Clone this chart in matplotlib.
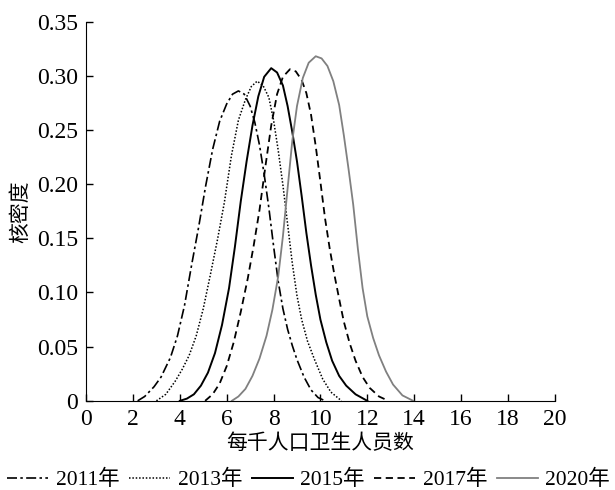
import matplotlib
matplotlib.use("Agg")
import matplotlib.pyplot as plt

plt.rcParams['font.family'] = ['Liberation Serif', 'Noto Sans CJK SC']

# density curves (x = 每千人口卫生人员数, y = 核密度)
x_2011 = [2.2, 2.5, 2.9, 3.2, 3.6, 3.9, 4.2, 4.5, 4.8, 5.1, 5.4, 5.7, 6.0, 6.25, 6.5,
          6.75, 7.0, 7.2, 7.4, 7.6, 7.8, 8.0, 8.2, 8.4, 8.6, 8.8, 9.0, 9.3, 9.6, 9.9, 10.2]
y_2011 = [0, 0.004, 0.013, 0.022, 0.040, 0.060, 0.088, 0.125, 0.160, 0.198, 0.232, 0.258, 0.274, 0.283, 0.286,
          0.283, 0.272, 0.257, 0.236, 0.209, 0.178, 0.143, 0.110, 0.085, 0.066, 0.051, 0.038, 0.022, 0.010, 0.003, 0]

x_2013 = [3.0, 3.4, 3.8, 4.1, 4.4, 4.7, 5.0, 5.3, 5.6, 5.9, 6.2, 6.5, 6.8, 7.05, 7.3,
          7.55, 7.8, 8.0, 8.2, 8.4, 8.6, 8.8, 9.0, 9.2, 9.45, 9.75, 10.1, 10.45, 10.9]
y_2013 = [0, 0.006, 0.018, 0.029, 0.042, 0.060, 0.085, 0.116, 0.148, 0.183, 0.226, 0.259, 0.278, 0.290, 0.295,
          0.291, 0.280, 0.259, 0.231, 0.199, 0.163, 0.127, 0.097, 0.075, 0.055, 0.038, 0.020, 0.008, 0]

x_2015 = [4.0, 4.3, 4.6, 4.9, 5.2, 5.5, 5.8, 6.1, 6.35, 6.6, 6.85, 7.1, 7.35, 7.6, 7.9,
          8.15, 8.4, 8.6, 8.8, 9.0, 9.2, 9.4, 9.6, 9.8, 10.0, 10.25, 10.5, 10.8, 11.1, 11.5, 12.0]
y_2015 = [0, 0.002, 0.006, 0.014, 0.026, 0.044, 0.070, 0.104, 0.142, 0.184, 0.221, 0.254, 0.281, 0.299, 0.307,
          0.303, 0.291, 0.272, 0.248, 0.221, 0.189, 0.155, 0.125, 0.098, 0.075, 0.054, 0.037, 0.023, 0.014, 0.006, 0]

x_2017 = [5.08, 5.4, 5.7, 6.0, 6.3, 6.6, 6.9, 7.15, 7.4, 7.65, 7.9, 8.15, 8.4, 8.7, 8.95,
          9.2, 9.4, 9.6, 9.8, 10.0, 10.2, 10.4, 10.6, 10.8, 11.0, 11.25, 11.5, 11.8, 12.1, 12.5, 12.9]
y_2017 = [0, 0.006, 0.016, 0.032, 0.054, 0.082, 0.113, 0.143, 0.176, 0.216, 0.254, 0.283, 0.299, 0.306, 0.304,
          0.296, 0.284, 0.264, 0.235, 0.202, 0.168, 0.140, 0.116, 0.094, 0.073, 0.053, 0.037, 0.022, 0.012, 0.004, 0]

x_2020 = [6.22, 6.5, 6.8, 7.1, 7.4, 7.7, 7.95, 8.2, 8.4, 8.6, 8.8, 9.0, 9.25, 9.5, 9.8,
          10.05, 10.3, 10.55, 10.8, 11.0, 11.2, 11.4, 11.6, 11.8, 12.0, 12.25, 12.5, 12.8, 13.1, 13.5, 13.96]
y_2020 = [0, 0.004, 0.011, 0.023, 0.039, 0.060, 0.084, 0.115, 0.152, 0.196, 0.240, 0.272, 0.298, 0.312, 0.318,
          0.316, 0.309, 0.295, 0.273, 0.245, 0.214, 0.181, 0.140, 0.104, 0.078, 0.058, 0.042, 0.027, 0.015, 0.005, 0]

x_ticks = [0, 2, 4, 6, 8, 10, 12, 14, 16, 18, 20]
y_ticks = [0, 0.05, 0.10, 0.15, 0.20, 0.25, 0.30, 0.35]
y_tick_labels = ['0', '0.05', '0.10', '0.15', '0.20', '0.25', '0.30', '0.35']

fig = plt.figure(figsize=(6.15, 4.9), dpi=100)
ax = fig.add_axes([0.140, 0.182, 0.762, 0.774])

ax.plot(x_2011, y_2011, color='black', lw=1.2, linestyle=(0, (6, 2, 1.5, 2)), label='2011年')
ax.plot(x_2013, y_2013, color='black', lw=1.1, linestyle=(0, (1, 1.2)), label='2013年')
ax.plot(x_2015, y_2015, color='black', lw=1.4, linestyle='-', label='2015年')
ax.plot(x_2017, y_2017, color='black', lw=1.3, linestyle=(0, (4, 2.5)), label='2017年')
ax.plot(x_2020, y_2020, color='#808080', lw=1.3, linestyle='-', label='2020年')

ax.set_xlim(0, 20)
ax.set_ylim(0, 0.35)
ax.set_xticks(x_ticks)
ax.set_yticks(y_ticks)
ax.set_yticklabels(y_tick_labels)
ax.spines['top'].set_visible(False)
ax.spines['right'].set_visible(False)
ax.tick_params(direction='in', length=5, width=1, labelsize=17, pad=6)
ax.set_xlabel('每千人口卫生人员数', fontsize=15, labelpad=3)
ax.set_ylabel('核密度', fontsize=15, labelpad=4)

fig.legend(loc='center', bbox_to_anchor=(0.502, 0.02), ncol=5, frameon=False,
           fontsize=15.5, handlelength=1.9, handletextpad=0.35, columnspacing=0.45)

fig.savefig('out.png', dpi=100)
